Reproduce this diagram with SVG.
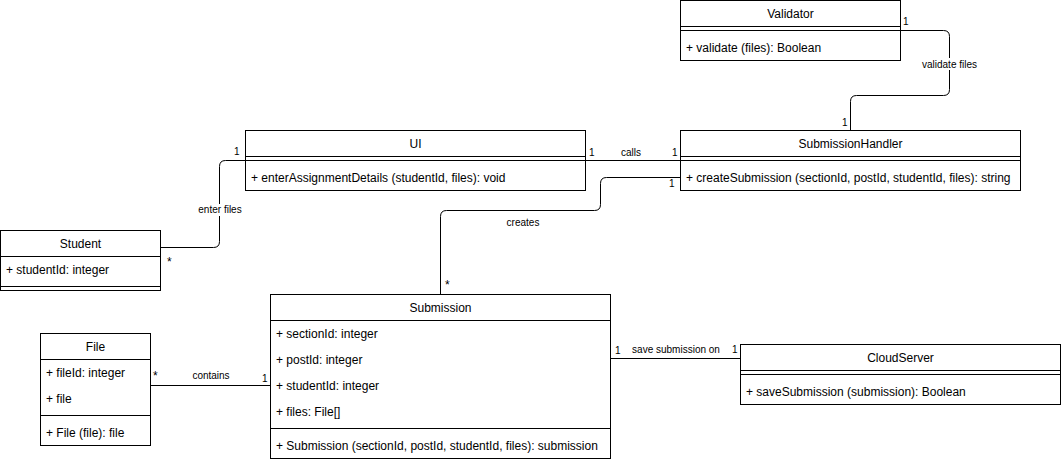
<svg xmlns="http://www.w3.org/2000/svg" width="1061" height="462" viewBox="0 0 1061 462">
  <style>
    .box { fill: #ffffff; stroke: #000000; stroke-width: 1; }
    .div { stroke: #000000; stroke-width: 1; fill: none; }
    .title { font-family: "Liberation Sans", Arial, sans-serif; font-size: 12px; fill: #000000; text-anchor: middle; }
    .member { font-family: "Liberation Sans", Arial, sans-serif; font-size: 12px; fill: #000000; }
    .edge { fill: none; stroke: #000000; stroke-width: 1; }
    .lbl { font-family: "Liberation Sans", Arial, sans-serif; font-size: 10px; fill: #000000; text-anchor: middle; }
    .mult { font-family: "Liberation Sans", Arial, sans-serif; font-size: 10px; fill: #000000; }
    .many { font-size: 12px; }
    .lblbg { fill: #ffffff; stroke: none; }
  </style>

  <!-- associations -->
  <g id="connectors">
    <!-- Validator – SubmissionHandler -->
    <path class="edge" d="M900.5,30.5 H943.5 Q949.5,30.5 949.5,36.5 V89.5 Q949.5,95.5 943.5,95.5 H856.5 Q850.5,95.5 850.5,101.5 V130.5"/>
    <rect class="lblbg" x="926" y="58" width="47" height="12"/>
    <text class="lbl" x="949.5" y="67.5">validate files</text>
    <text class="mult" x="903" y="25">1</text>
    <text class="mult" x="842" y="126">1</text>

    <!-- UI – SubmissionHandler -->
    <path class="edge" d="M585.5,160.5 H680.5"/>
    <text class="lbl" x="631" y="156">calls</text>
    <text class="mult" x="589" y="156">1</text>
    <text class="mult" x="672" y="156">1</text>

    <!-- Student – UI -->
    <path class="edge" d="M160.5,247.5 H213.5 Q219.5,247.5 219.5,241.5 V166.5 Q219.5,160.5 225.5,160.5 H245.5"/>
    <rect class="lblbg" x="198" y="204" width="44" height="12"/>
    <text class="lbl" x="220" y="213">enter files</text>
    <text class="mult" x="234" y="155">1</text>
    <text class="mult many" x="167" y="266">*</text>

    <!-- SubmissionHandler – Submission -->
    <path class="edge" d="M680.5,177.5 H606.5 Q600.5,177.5 600.5,183.5 V204.5 Q600.5,210.5 594.5,210.5 H446.5 Q440.5,210.5 440.5,216.5 V294.5"/>
    <text class="lbl" x="523" y="226">creates</text>
    <text class="mult" x="669" y="187">1</text>
    <text class="mult many" x="445" y="289">*</text>

    <!-- File – Submission -->
    <path class="edge" d="M150.5,385.5 H270.5"/>
    <text class="lbl" x="211" y="379">contains</text>
    <text class="mult many" x="153" y="380">*</text>
    <text class="mult" x="262" y="382">1</text>

    <!-- Submission – CloudServer -->
    <path class="edge" d="M610.5,358.5 H740.5"/>
    <text class="lbl" x="676" y="353">save submission on</text>
    <text class="mult" x="615" y="354">1</text>
    <text class="mult" x="732" y="353">1</text>
  </g>

  <!-- Validator -->
  <g id="validator">
    <rect class="box" x="680.5" y="0.5" width="220" height="60"/>
    <path class="div" d="M680.5,26.5 H900.5 M680.5,30.5 H900.5"/>
    <text class="title" x="790.5" y="18">Validator</text>
    <text class="member" x="686" y="51.5">+ validate (files): Boolean</text>
  </g>

  <!-- UI -->
  <g id="ui">
    <rect class="box" x="245.5" y="130.5" width="340" height="60"/>
    <path class="div" d="M245.5,156.5 H585.5 M245.5,160.5 H585.5"/>
    <text class="title" x="415.5" y="148">UI</text>
    <text class="member" x="251" y="181.5">+ enterAssignmentDetails (studentId, files): void</text>
  </g>

  <!-- SubmissionHandler -->
  <g id="submissionhandler">
    <rect class="box" x="680.5" y="130.5" width="340" height="60"/>
    <path class="div" d="M680.5,156.5 H1020.5 M680.5,160.5 H1020.5"/>
    <text class="title" x="850.5" y="148">SubmissionHandler</text>
    <text class="member" x="686" y="181.5">+ createSubmission (sectionId, postId, studentId, files): string</text>
  </g>

  <!-- Student -->
  <g id="student">
    <rect class="box" x="0.5" y="230.5" width="160" height="60"/>
    <path class="div" d="M0.5,256.5 H160.5 M0.5,286.5 H160.5"/>
    <text class="title" x="80.5" y="248">Student</text>
    <text class="member" x="6" y="273.5">+ studentId: integer</text>
  </g>

  <!-- Submission -->
  <g id="submission">
    <rect class="box" x="270.5" y="294.5" width="340" height="164"/>
    <path class="div" d="M270.5,320.5 H610.5 M270.5,428.5 H610.5"/>
    <text class="title" x="440.5" y="312">Submission</text>
    <text class="member" x="276" y="337.5">+ sectionId: integer</text>
    <text class="member" x="276" y="363.5">+ postId: integer</text>
    <text class="member" x="276" y="389.5">+ studentId: integer</text>
    <text class="member" x="276" y="415.5">+ files: File[]</text>
    <text class="member" x="276" y="449.5">+ Submission (sectionId, postId, studentId, files): submission</text>
  </g>

  <!-- File -->
  <g id="file">
    <rect class="box" x="40.5" y="333.5" width="110" height="112"/>
    <path class="div" d="M40.5,359.5 H150.5 M40.5,415.5 H150.5"/>
    <text class="title" x="95.5" y="351">File</text>
    <text class="member" x="46" y="376.5">+ fileId: integer</text>
    <text class="member" x="46" y="402.5">+ file</text>
    <text class="member" x="46" y="436.5">+ File (file): file</text>
  </g>

  <!-- CloudServer -->
  <g id="cloudserver">
    <rect class="box" x="740.5" y="344.5" width="320" height="60"/>
    <path class="div" d="M740.5,370.5 H1060.5 M740.5,374.5 H1060.5"/>
    <text class="title" x="900.5" y="362">CloudServer</text>
    <text class="member" x="746" y="395.5">+ saveSubmission (submission): Boolean</text>
  </g>
</svg>
